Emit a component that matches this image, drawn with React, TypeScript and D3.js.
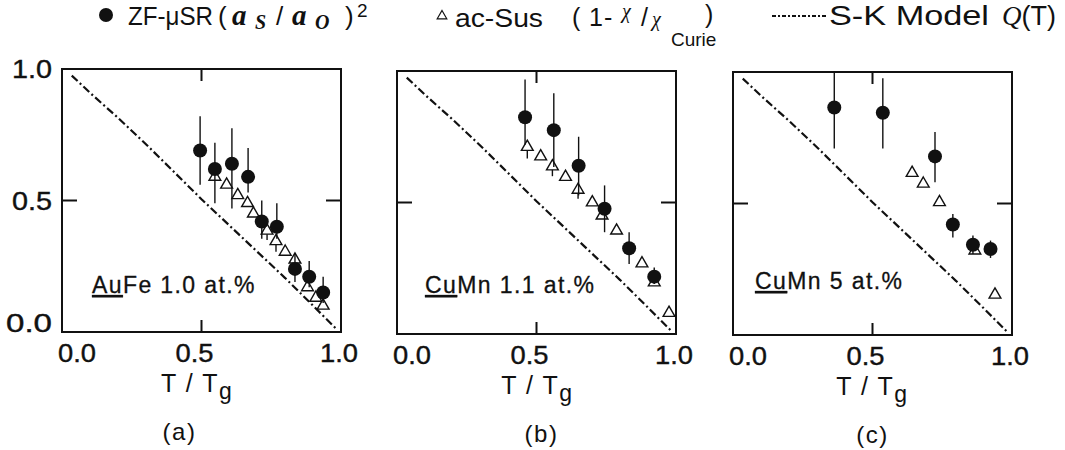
import * as d3 from "d3";

const panelCaptions = ["(a)", "(b)", "(c)"];
const hostNames = ["Au", "Cu", "Cu"];
const alloyNames = ["Fe 1.0 at.%", "Mn 1.1 at.%", "Mn 5 at.%"];
const tickValues = [0, 0.5, 1];
const tickLabels = ["0.0", "0.5", "1.0"];

// ZF-muSR (aS/aO)^2 : T/Tg, value, error bar top, error bar bottom
const musrA_T = [0.495, 0.548, 0.609, 0.667, 0.716, 0.77, 0.835, 0.886, 0.936];
const musrA_V = [0.69, 0.62, 0.64, 0.59, 0.42, 0.4, 0.24, 0.21, 0.15];
const musrA_Hi = [0.82, 0.72, 0.775, 0.7, 0.5, 0.49, 0.3, 0.27, 0.21];
const musrA_Lo = [0.56, 0.49, 0.47, 0.53, 0.355, 0.355, 0.19, 0.17, 0.11];

const musrB_T = [0.459, 0.562, 0.651, 0.744, 0.832, 0.922];
const musrB_V = [0.824, 0.775, 0.64, 0.476, 0.326, 0.218];
const musrB_Hi = [0.968, 0.915, 0.75, 0.565, 0.387, 0.253];
const musrB_Lo = [0.72, 0.635, 0.527, 0.387, 0.266, 0.19];

const musrC_T = [0.363, 0.537, 0.724, 0.788, 0.86, 0.923];
const musrC_V = [0.865, 0.845, 0.679, 0.42, 0.343, 0.327];
const musrC_Hi = [1.0, 0.976, 0.772, 0.46, 0.378, 0.359];
const musrC_Lo = [0.709, 0.709, 0.581, 0.371, 0.308, 0.293];

// ac-Sus (1 - chi/chi_Curie) : T/Tg, value, lower end of small error bar
const susA_T = [0.548, 0.59, 0.63, 0.665, 0.686, 0.735, 0.767, 0.8, 0.835, 0.88, 0.91, 0.936];
const susA_V = [0.59, 0.56, 0.52, 0.49, 0.45, 0.385, 0.345, 0.305, 0.275, 0.17, 0.13, 0.1];
const susA_Lo = [0.59, 0.56, 0.52, 0.49, 0.45, 0.35, 0.305, 0.305, 0.275, 0.17, 0.13, 0.1];

const susB_T = [0.467, 0.515, 0.557, 0.604, 0.649, 0.7, 0.735, 0.787, 0.878, 0.922, 0.975];
const susB_V = [0.711, 0.675, 0.637, 0.597, 0.548, 0.5, 0.45, 0.393, 0.268, 0.196, 0.08];
const susB_Lo = [0.667, 0.675, 0.6, 0.597, 0.514, 0.5, 0.45, 0.393, 0.268, 0.196, 0.08];

const susC_T = [0.642, 0.682, 0.74, 0.867, 0.939];
const susC_V = [0.616, 0.575, 0.505, 0.321, 0.153];

// S-K model Q(T)
const skT = [0.035, 0.1, 0.2, 0.3, 0.4, 0.5, 0.6, 0.7, 0.8, 0.9, 0.98];
const skQ = [0.975, 0.91, 0.815, 0.715, 0.61, 0.505, 0.405, 0.305, 0.205, 0.1, 0.015];

const musrSets = [
  { t: musrA_T, v: musrA_V, hi: musrA_Hi, lo: musrA_Lo },
  { t: musrB_T, v: musrB_V, hi: musrB_Hi, lo: musrB_Lo },
  { t: musrC_T, v: musrC_V, hi: musrC_Hi, lo: musrC_Lo },
];
const susSets = [
  { t: susA_T, v: susA_V, lo: susA_Lo },
  { t: susB_T, v: susB_V, lo: susB_Lo },
  { t: susC_T, v: susC_V, lo: susC_V },
];

const W = 1065;
const H = 450;
const panelLeft = [62, 397, 733];
const panelTop = [69, 71, 72];
const panelW = 279;
const panelH = 263;
const tickLabelDx = [15, -7, -2];
const captionDx = [-22, 5, 0];
const nameDx = [30, 28, 22];
const nameY = [293, 293, 289];

const SANS = "'Liberation Sans', Arial, sans-serif";
const SERIF = "'Liberation Serif', 'DejaVu Serif', serif";
const DASH = "8 3 2 3";
const INK = "#111";

const triangle = d3.symbol(d3.symbolTriangle, 60)();

function Panel({ i }: { i: number }) {
  const x0 = panelLeft[i];
  const y0 = panelTop[i];
  const x = d3.scaleLinear().domain([0, 1]).range([x0, x0 + panelW]);
  const y = d3.scaleLinear().domain([0, 1]).range([y0 + panelH, y0]);
  const line = d3
    .line<number>()
    .x((d, k) => x(skT[k]))
    .y((d) => y(d));
  const m = musrSets[i];
  const s = susSets[i];
  const tick = 12;
  return (
    <g>
      <rect x={x0} y={y0} width={panelW} height={panelH} fill="none" stroke={INK} strokeWidth={2} />
      {/* inward ticks at 0.5 */}
      <line x1={x(0.5)} x2={x(0.5)} y1={y(0)} y2={y(0) - tick} stroke={INK} strokeWidth={2} />
      <line x1={x(0.5)} x2={x(0.5)} y1={y(1)} y2={y(1) + tick} stroke={INK} strokeWidth={2} />
      <line x1={x(0)} x2={x(0) + tick + 3} y1={y(0.5)} y2={y(0.5)} stroke={INK} strokeWidth={2} />
      <line x1={x(1)} x2={x(1) - tick - 3} y1={y(0.5)} y2={y(0.5)} stroke={INK} strokeWidth={2} />

      {tickValues.map((v, k) => (
        <text
          key={"xt" + k}
          x={x(v) + tickLabelDx[k]}
          y={y(0) + 30}
          textAnchor="middle"
          fontFamily={SANS}
          fontSize={26}
          textLength={38}
          lengthAdjust="spacingAndGlyphs"
          fill={INK}
          stroke={INK}
          strokeWidth={0.4}
        >
          {tickLabels[k]}
        </text>
      ))}
      {i === 0 &&
        tickValues.map((v, k) => (
          <text
            key={"yt" + k}
            x={x0 - 10}
            y={y(v) + (v === 0 ? 0 : 9)}
            textAnchor="end"
            fontFamily={SANS}
            fontSize={26}
            textLength={v === 0 ? 46 : 40}
            lengthAdjust="spacingAndGlyphs"
            fill={INK}
            stroke={INK}
            strokeWidth={0.4}
          >
            {tickLabels[k]}
          </text>
        ))}

      <text x={x(0.5) + captionDx[i] / 5} y={y(0) + 60} textAnchor="middle" fontFamily={SANS} fontSize={25} fill={INK} letterSpacing={1.5}>
        T / T<tspan dy={7} fontSize={23}>g</tspan>
      </text>
      <text x={x(0.5) + captionDx[i]} y={y(0) + 108} textAnchor="middle" fontFamily={SANS} fontSize={24} fill={INK} letterSpacing={1.5}>
        {panelCaptions[i]}
      </text>

      <text x={x0 + nameDx[i]} y={nameY[i]} fontFamily={SANS} fontSize={23} fill={INK} letterSpacing={1.4} stroke={INK} strokeWidth={0.3}>
        <tspan textDecoration="underline">{hostNames[i]}</tspan>
        {alloyNames[i]}
      </text>

      <path d={line(skQ) || ""} fill="none" stroke={INK} strokeWidth={2.2} strokeDasharray={DASH} />

      {s.t.map((t, k) => (
        <g key={"s" + k}>
          {s.lo[k] < s.v[k] && (
            <line x1={x(t)} x2={x(t)} y1={y(s.v[k])} y2={y(s.lo[k])} stroke={INK} strokeWidth={1.4} />
          )}
          <path d={triangle} transform={`translate(${x(t)},${y(s.v[k])})`} fill="#fff" stroke={INK} strokeWidth={1.4} />
        </g>
      ))}

      {m.t.map((t, k) => (
        <g key={"m" + k}>
          <line x1={x(t)} x2={x(t)} y1={y(m.hi[k])} y2={y(m.lo[k])} stroke={INK} strokeWidth={1.4} />
          <circle cx={x(t)} cy={y(m.v[k])} r={7} fill={INK} />
        </g>
      ))}
    </g>
  );
}

function Legend() {
  return (
    <g fill={INK}>
      <circle cx={106} cy={15} r={7} fill={INK} />
      <text x={128} y={25} fontFamily={SANS} fontSize={25} textLength={85} lengthAdjust="spacingAndGlyphs">
        ZF-μSR
      </text>
      <text y={25} fontFamily={SERIF} fontSize={29} fontWeight="bold" fontStyle="italic">
        <tspan x={218} fontFamily={SANS} fontWeight="normal" fontStyle="normal" fontSize={26}>(</tspan>
        <tspan x={232}>a</tspan>
        <tspan x={255} dy={4} fontSize={20}>S</tspan>
        <tspan x={276} dy={-4} fontFamily={SANS} fontWeight="normal" fontStyle="normal" fontSize={26}>/</tspan>
        <tspan x={292}>a</tspan>
        <tspan x={315} dy={4} fontSize={20}>O</tspan>
        <tspan x={345} dy={-4} fontFamily={SANS} fontWeight="normal" fontStyle="normal" fontSize={26}>)</tspan>
        <tspan x={357} dy={-8} fontFamily={SANS} fontWeight="normal" fontStyle="normal" fontSize={19}>2</tspan>
      </text>

      <path d={d3.symbol(d3.symbolTriangle, 40)() || ""} transform="translate(442,16)" fill="none" stroke={INK} strokeWidth={1.2} />
      <text x={455} y={27} fontFamily={SANS} fontSize={25} textLength={88} lengthAdjust="spacingAndGlyphs">
        ac-Sus
      </text>
      <text y={26} fontFamily={SANS} fontSize={25}>
        <tspan x={572}>(</tspan>
        <tspan x={589}>1</tspan>
        <tspan x={604}>-</tspan>
        <tspan x={622} dy={-8} fontSize={20} fontFamily={SERIF} fontStyle="italic">χ</tspan>
        <tspan x={641} dy={8}>/</tspan>
        <tspan x={652} fontSize={20} fontFamily={SERIF} fontStyle="italic">χ</tspan>
        <tspan x={671} dy={20} fontSize={19}>Curie</tspan>
        <tspan x={705} dy={-23}>)</tspan>
      </text>

      <line x1={772} x2={827} y1={16} y2={16} stroke={INK} strokeWidth={2} strokeDasharray="4 2 2 2" />
      <text x={829} y={25} fontFamily={SANS} fontSize={27} textLength={160} lengthAdjust="spacingAndGlyphs">
        S-K Model
      </text>
      <text x={1002} y={25} fontFamily={SANS} fontSize={27}>
        <tspan fontStyle="italic" fontFamily={SERIF}>Q</tspan>
        <tspan>(T)</tspan>
      </text>
    </g>
  );
}

export default function App() {
  return (
    <svg width={W} height={H} style={{ position: "absolute", left: 0, top: 0, background: "#fff" }}>
      <rect width={W} height={H} fill="#fff" />
      <Legend />
      {[0, 1, 2].map((i) => (
        <Panel key={i} i={i} />
      ))}
    </svg>
  );
}
